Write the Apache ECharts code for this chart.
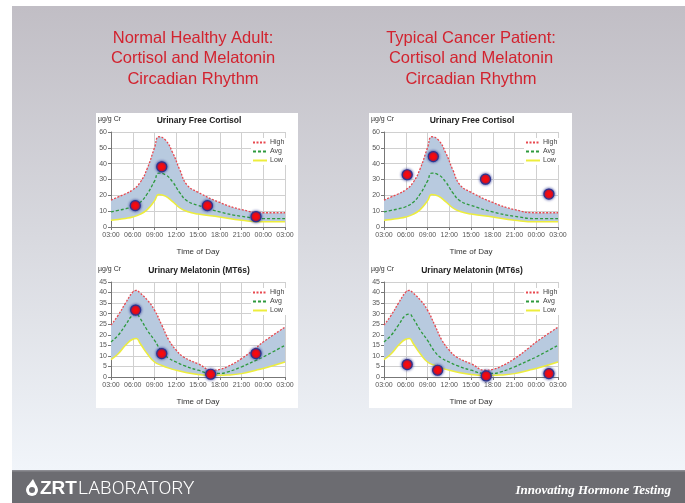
<!DOCTYPE html>
<html>
<head>
<meta charset="UTF-8">
<title>Cortisol and Melatonin Circadian Rhythm</title>
<script src="https://cdn.jsdelivr.net/npm/echarts@6/dist/echarts.min.js"></script>
<style>
  html, body { margin: 0; padding: 0; background: #fff; }
  #main { width: 685px; height: 503px; }
</style>
</head>
<body>
<div id="main"></div>
<script>
// hours of day, 3 = 03:00 ... 27 = 03:00 next day
var xTicks = [3, 6, 9, 12, 15, 18, 21, 24, 27];

// cortisol reference ranges (ug/g Cr)
var cortHours = [3, 4, 5, 6, 7, 8, 9, 9.6, 10.5, 11.5, 12.5, 13.5, 15, 18, 21, 24, 27];
var cortHigh  = [17, 19, 21, 23.5, 28, 37, 50, 57, 55, 47, 36, 26.5, 22, 15.5, 11, 9, 9];
var cortAvg   = [9.5, 10.5, 11.5, 12.8, 15.5, 21, 29, 34, 33, 28.5, 21.5, 16.5, 13.7, 9.5, 6.8, 5.3, 5.3];
var cortLow   = [4.2, 4.8, 5.4, 6.3, 8, 11, 16.5, 20.5, 19.5, 16, 12, 9.8, 8.2, 6.3, 4.3, 3.3, 3.3];

// melatonin (MT6s) reference ranges
var melHours = [3, 4, 5, 6, 6.5, 7, 8, 9, 10, 11, 12, 13, 15, 17, 18, 19, 21, 23, 24, 27];
var melHigh  = [24.6, 29.3, 35, 40.2, 41, 39.8, 36.5, 31.7, 24.6, 17.4, 12.7, 9.5, 6.3, 3.2, 3.6, 4.8, 8.7, 13.8, 16.6, 23.6];
var melAvg   = [16.6, 19.8, 24.6, 29.3, 29.8, 27.8, 22.2, 17.4, 12, 8.8, 7.1, 5.5, 3.2, 1.7, 1.7, 2.3, 4.8, 7.9, 9.5, 15];
var melLow   = [8.2, 11, 15, 17.9, 18.2, 16, 11, 7.1, 5.5, 4.2, 3.2, 2.4, 1.2, 0.8, 0.8, 0.9, 1.6, 3.2, 4, 7.1];

// patient samples [hour, value]
var cortNormalPts = [[6.35, 13.5], [10.0, 38], [16.3, 13.5], [23.0, 6.5]];
var cortCancerPts = [[6.2, 33], [9.8, 44.5], [17.0, 30.2], [25.75, 20.8]];
var melNormalPts  = [[6.4, 31.7], [10.0, 11.1], [16.75, 1.3], [23.0, 11.1]];
var melCancerPts  = [[6.2, 5.9], [10.4, 3.2], [17.1, 0.5], [25.75, 1.6]];

var myChart = echarts.init(document.getElementById('main'));
var FONT = 'Liberation Sans';

function pair(xs, ys) {
  return xs.map(function (x, i) { return [x, ys[i]]; });
}
// value first so that the stack is done on y, not on the hour
function pairYX(xs, ys) {
  return xs.map(function (x, i) { return [ys[i], x]; });
}

function hourLabel(v) {
  var h = v % 24;
  return (h < 10 ? '0' : '') + h + ':00';
}

// band between High and Low + the three lines + sample dots
function panelSeries(idx, hours, hi, av, lo, pts) {
  var diff = hi.map(function (v, i) { return +(v - lo[i]).toFixed(2); });
  var base = { type: 'line', xAxisIndex: idx, yAxisIndex: idx, smooth: 0.5, symbol: 'none', silent: true };
  function line(name, ys, color, type, width) {
    return Object.assign({}, base, { name: name, data: pair(hours, ys), itemStyle: { color: color },
      lineStyle: { color: color, width: width, type: type } });
  }
  return [
    Object.assign({}, base, { name: 'base' + idx, stack: 'band' + idx, data: pairYX(hours, lo),
      encode: { x: 1, y: 0 }, lineStyle: { opacity: 0 } }),
    Object.assign({}, base, { name: 'band' + idx, stack: 'band' + idx, data: pairYX(hours, diff),
      encode: { x: 1, y: 0 }, lineStyle: { opacity: 0 }, areaStyle: { color: '#b8cadf', opacity: 1 } }),
    line('Low', lo, '#eded3c', 'solid', 1.5),
    line('Avg', av, '#2e9a3e', [3, 2], 1.3),
    line('High', hi, '#e8484f', [2, 1.5], 1.3),
    {
      type: 'scatter', xAxisIndex: idx, yAxisIndex: idx, data: pts, symbolSize: 10, z: 5,
      itemStyle: { color: '#ff0a0a', opacity: 1, borderColor: '#2a3590', borderWidth: 1.2,
        shadowBlur: 3, shadowColor: 'rgba(30,40,140,0.9)' }
    }
  ];
}

var grids = [
  { left: 111, top: 132, width: 174, height: 95 },
  { left: 384, top: 132, width: 174, height: 95 },
  { left: 111, top: 282, width: 174, height: 95 },
  { left: 384, top: 282, width: 174, height: 95 }
];
var yMax = [60, 60, 45, 45];
var yStep = [10, 10, 5, 5];

var xAxes = [], yAxes = [], legends = [];
for (var i = 0; i < 4; i++) {
  xAxes.push({
    type: 'value', gridIndex: i, min: 3, max: 27, interval: 3,
    name: 'Time of Day', nameLocation: 'middle', nameGap: 21,
    nameTextStyle: { fontFamily: FONT, fontSize: 8, color: '#333' },
    axisLine: { lineStyle: { color: '#777' } },
    axisTick: { show: true, length: 3, lineStyle: { color: '#777' } },
    axisLabel: { fontFamily: FONT, fontSize: 7, color: '#555', margin: 5, formatter: hourLabel, showMinLabel: true, showMaxLabel: true },
    splitLine: { show: true, lineStyle: { color: '#d0d0d0' } }
  });
  yAxes.push({
    type: 'value', gridIndex: i, min: 0, max: yMax[i], interval: yStep[i],
    axisLine: { show: true, lineStyle: { color: '#777' } },
    axisTick: { show: true, length: 3, lineStyle: { color: '#777' } },
    axisLabel: { fontFamily: FONT, fontSize: 7, color: '#555', margin: 4 },
    splitLine: { show: true, lineStyle: { color: '#d0d0d0' } }
  });
  legends.push({
    data: ['High', 'Avg', 'Low'], orient: 'vertical',
    left: grids[i].left + 140, top: grids[i].top + 6,
    itemWidth: 14, itemHeight: 7, itemGap: 2,
    itemStyle: { opacity: 0 },
    backgroundColor: '#fff', padding: [1, 4, 1, 1],
    textStyle: { fontFamily: FONT, fontSize: 7, color: '#444', padding: [0, 0, 0, -2] },
    selectedMode: false
  });
}

var series = [].concat(
  panelSeries(0, cortHours, cortHigh, cortAvg, cortLow, cortNormalPts),
  panelSeries(1, cortHours, cortHigh, cortAvg, cortLow, cortCancerPts),
  panelSeries(2, melHours, melHigh, melAvg, melLow, melNormalPts),
  panelSeries(3, melHours, melHigh, melAvg, melLow, melCancerPts)
);

var headStyle = { fontFamily: FONT, fontSize: 16.5, lineHeight: 20.5, color: '#d2232f', fontWeight: 'normal' };
var chartTitleStyle = { fontFamily: FONT, fontSize: 8.5, fontWeight: 'bold', color: '#222' };
var unitStyle = { fontFamily: FONT, fontSize: 7, color: '#333', fontWeight: 'normal' };

myChart.setOption({
  animation: false,
  title: [
    { text: 'Normal Healthy Adult:\nCortisol and Melatonin\nCircadian Rhythm', left: 193, top: 28, textAlign: 'center', padding: 0, textStyle: headStyle },
    { text: 'Typical Cancer Patient:\nCortisol and Melatonin\nCircadian Rhythm', left: 471, top: 28, textAlign: 'center', padding: 0, textStyle: headStyle },
    { text: 'Urinary Free Cortisol', left: 199, top: 116, textAlign: 'center', padding: 0, textStyle: chartTitleStyle },
    { text: 'Urinary Free Cortisol', left: 472, top: 116, textAlign: 'center', padding: 0, textStyle: chartTitleStyle },
    { text: 'Urinary Melatonin (MT6s)', left: 199, top: 266, textAlign: 'center', padding: 0, textStyle: chartTitleStyle },
    { text: 'Urinary Melatonin (MT6s)', left: 472, top: 266, textAlign: 'center', padding: 0, textStyle: chartTitleStyle },
    { text: 'µg/g Cr', left: 98, top: 116, padding: 0, textStyle: unitStyle },
    { text: 'µg/g Cr', left: 371, top: 116, padding: 0, textStyle: unitStyle },
    { text: 'µg/g Cr', left: 98, top: 266, padding: 0, textStyle: unitStyle },
    { text: 'µg/g Cr', left: 371, top: 266, padding: 0, textStyle: unitStyle }
  ],
  graphic: [
    { type: 'rect', z: -10, silent: true, shape: { x: 12, y: 6, width: 673, height: 465 },
      style: { fill: new echarts.graphic.LinearGradient(0, 0, 0, 1, [
        { offset: 0, color: '#c1bec5' }, { offset: 0.5, color: '#d8d9df' }, { offset: 1, color: '#f1f5fa' }]) } },
    { type: 'rect', z: -9, silent: true, shape: { x: 96, y: 113, width: 202, height: 295 }, style: { fill: '#fff' } },
    { type: 'rect', z: -9, silent: true, shape: { x: 369, y: 113, width: 203, height: 295 }, style: { fill: '#fff' } },
    // footer
    { type: 'rect', z: -9, silent: true, shape: { x: 12, y: 471, width: 673, height: 32 }, style: { fill: '#6c6c71' } },
    { type: 'rect', z: -9, silent: true, shape: { x: 12, y: 470, width: 673, height: 1.5 }, style: { fill: '#8c8c92' } },
    { type: 'circle', silent: true, shape: { cx: 32, cy: 490, r: 6 }, style: { fill: '#fff' } },
    { type: 'polygon', silent: true, shape: { points: [[27, 487], [33, 479], [37, 487]] }, style: { fill: '#fff' } },
    { type: 'circle', silent: true, shape: { cx: 32, cy: 490, r: 3 }, style: { fill: '#6c6c71' } },
    { type: 'text', silent: true, style: { x: 40, y: 489, text: 'ZRT', verticalAlign: 'middle', fill: '#fff',
      font: 'bold 19px "Liberation Sans"' } },
    { type: 'text', silent: true, style: { x: 78, y: 489, text: 'LABORATORY', verticalAlign: 'middle', fill: '#fff',
      font: '300 19px Roboto' } },
    { type: 'text', silent: true, style: { x: 671, y: 491, text: 'Innovating Hormone Testing', align: 'right', verticalAlign: 'middle',
      fill: '#fff', font: 'italic bold 13px "Liberation Serif"' } }
  ],
  grid: grids,
  xAxis: xAxes,
  yAxis: yAxes,
  legend: legends,
  series: series
});
</script>
</body>
</html>
